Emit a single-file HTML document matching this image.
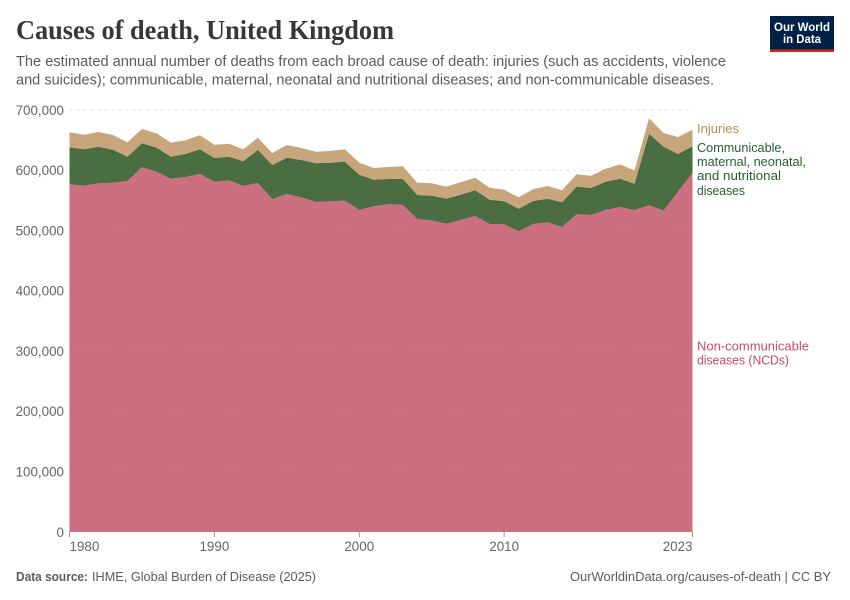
<!DOCTYPE html>
<html lang="en">
<head>
<meta charset="utf-8">
<title>Causes of death, United Kingdom</title>
<style>
html,body{margin:0;padding:0;background:#fff;}
svg{display:block;font-family:"Liberation Sans",sans-serif;}
</style>
</head>
<body>
<svg id="chart" xmlns="http://www.w3.org/2000/svg" width="850" height="600" viewBox="0 0 850 600">
  <rect x="0" y="0" width="850" height="600" fill="#fff"/>
  <text x="16" y="39" font-family="'Liberation Serif',serif" font-weight="700" font-size="27" fill="#373737" textLength="378" lengthAdjust="spacingAndGlyphs">Causes of death, United Kingdom</text>
  <text x="16" y="66" font-size="14.5" fill="#5b5b5b" textLength="710" lengthAdjust="spacingAndGlyphs">The estimated annual number of deaths from each broad cause of death: injuries (such as accidents, violence</text>
  <text x="16" y="84.6" font-size="14.5" fill="#5b5b5b" textLength="698" lengthAdjust="spacingAndGlyphs">and suicides); communicable, maternal, neonatal and nutritional diseases; and non-communicable diseases.</text>

  <g>
    <rect x="770" y="16" width="64" height="36" fill="#002147"/>
    <rect x="770" y="49.5" width="64" height="2.5" fill="#ce261e"/>
    <text x="802" y="31" text-anchor="middle" font-size="12" font-weight="700" fill="#fff" textLength="56" lengthAdjust="spacingAndGlyphs">Our World</text>
    <text x="802" y="43" text-anchor="middle" font-size="12" font-weight="700" fill="#fff" textLength="38" lengthAdjust="spacingAndGlyphs">in Data</text>
  </g>

  <g id="grid"></g>
  <g id="areas"></g>
  <g id="yticks"></g>
  <g id="xticks"></g>

  <g font-size="12.6">
    <text x="697" y="133" fill="#b58a5b" textLength="42" lengthAdjust="spacingAndGlyphs">Injuries</text>
    <g fill="#2c5e2e">
      <text x="697" y="152" textLength="88" lengthAdjust="spacingAndGlyphs">Communicable,</text>
      <text x="697" y="166" textLength="109" lengthAdjust="spacingAndGlyphs">maternal, neonatal,</text>
      <text x="697" y="180" textLength="84" lengthAdjust="spacingAndGlyphs">and nutritional</text>
      <text x="697" y="195" textLength="48" lengthAdjust="spacingAndGlyphs">diseases</text>
    </g>
    <g fill="#c15065">
      <text x="697" y="350.5" textLength="112" lengthAdjust="spacingAndGlyphs">Non-communicable</text>
      <text x="697" y="364.5" textLength="92" lengthAdjust="spacingAndGlyphs">diseases (NCDs)</text>
    </g>
  </g>

  <text x="16" y="581" font-size="13" fill="#5b5b5b"><tspan font-weight="700" textLength="72" lengthAdjust="spacingAndGlyphs">Data source:</tspan></text>
  <text x="92" y="581" font-size="13" fill="#5b5b5b" textLength="224" lengthAdjust="spacingAndGlyphs">IHME, Global Burden of Disease (2025)</text>
  <text x="570" y="581" font-size="13" fill="#5b5b5b" textLength="261" lengthAdjust="spacingAndGlyphs">OurWorldinData.org/causes-of-death | CC BY</text>
</svg>

<script>
const years = [1980,1981,1982,1983,1984,1985,1986,1987,1988,1989,1990,1991,1992,1993,1994,1995,1996,1997,1998,1999,2000,2001,2002,2003,2004,2005,2006,2007,2008,2009,2010,2011,2012,2013,2014,2015,2016,2017,2018,2019,2020,2021,2022,2023];
const ncds = [576800,574400,578400,579400,582200,605000,597700,586000,588900,593900,581000,583400,574000,578900,552400,560700,555200,547400,548600,549600,534600,540300,543600,542900,519200,517000,511400,517500,524200,510900,510400,498800,510900,513700,505900,527000,525800,534100,539100,534100,541900,533000,564500,596000];
const communicable = [61400,60400,60700,54700,40300,39800,39800,36500,38200,41000,39300,39100,41000,54700,56400,60200,61900,64200,64000,64700,58000,44100,42000,43100,39800,40800,41500,42000,42600,40300,38200,37500,38200,39100,41000,45800,44800,46900,46900,43600,118800,106200,62500,43800];
const injuries = [24900,24200,24400,24400,23900,23700,23900,23200,22700,23200,22100,21600,19900,20400,19900,21100,19900,19200,19400,20600,19900,19400,19900,20600,20400,20600,19900,20600,20900,19900,19200,18900,19400,21100,19900,20600,20400,21600,23900,22200,25500,22700,28200,27500];
const yTickValues = [0,100000,200000,300000,400000,500000,600000,700000];
const xTickYears = [1980,1990,2000,2010,2023];

const NS = 'http://www.w3.org/2000/svg';
const plotLeft = 69.5, plotRight = 692.5, plotBottom = 532, plotTop = 110;
const yMax = 700000;
function xScale(year){
  return plotLeft + (year - years[0]) / (years[years.length - 1] - years[0]) * (plotRight - plotLeft);
}
function yScale(value){
  return plotBottom - value / yMax * (plotBottom - plotTop);
}
function make(tag, attrs){
  const el = document.createElementNS(NS, tag);
  for (const k in attrs) el.setAttribute(k, attrs[k]);
  return el;
}

const gridG = document.getElementById('grid');
const yG = document.getElementById('yticks');
yTickValues.forEach(function(v){
  const y = yScale(v);
  if (v > 0) {
    const line = make('line', {x1: plotLeft, x2: plotRight, y1: y, y2: y, stroke: '#dddddd', 'stroke-dasharray': '3,4', 'stroke-width': 1});
    
    
    gridG.appendChild(line);
  }
  const label = make('text', {x: 64, y: y + 4.8, 'text-anchor': 'end', 'font-size': 13.4, fill: '#666666'});
  
  
  label.textContent = v.toLocaleString('en-US');
  yG.appendChild(label);
});

const xG = document.getElementById('xticks');
xTickYears.forEach(function(yr, i){
  const x = xScale(yr);
  const tick = make('line', {x1: x, x2: x, y1: plotBottom, y2: plotBottom + 5, stroke: '#999999', 'stroke-width': 1});
  
  
  xG.appendChild(tick);
  const anchor = i === 0 ? 'start' : (i === xTickYears.length - 1 ? 'end' : 'middle');
  const label = make('text', {x: x, y: 551, 'text-anchor': anchor, 'font-size': 13.4, fill: '#666666'});
  
  
  label.textContent = String(yr);
  xG.appendChild(label);
});

function areaPath(lower, upper){
  let d = '';
  years.forEach(function(yr, i){
    d += (i === 0 ? 'M' : 'L') + xScale(yr).toFixed(2) + ' ' + yScale(upper[i]).toFixed(2);
  });
  for (let i = years.length - 1; i >= 0; i--) {
    d += 'L' + xScale(years[i]).toFixed(2) + ' ' + yScale(lower[i]).toFixed(2);
  }
  return d + 'Z';
}
const areasG = document.getElementById('areas');
const zeros = years.map(function(){ return 0; });
const stack1 = ncds.slice();
const stack2 = stack1.map(function(v, i){ return v + communicable[i]; });
const stack3 = stack2.map(function(v, i){ return v + injuries[i]; });

const ncdArea = make('path', {d: areaPath(zeros, stack1), fill: '#c15065', 'fill-opacity': 0.82});


areasG.appendChild(ncdArea);

const commArea = make('path', {d: areaPath(stack1, stack2), fill: '#1d4913', 'fill-opacity': 0.8});


areasG.appendChild(commArea);

const injArea = make('path', {d: areaPath(stack2, stack3), fill: '#ba8f59', 'fill-opacity': 0.8});


areasG.appendChild(injArea);
</script>
</body>
</html>
